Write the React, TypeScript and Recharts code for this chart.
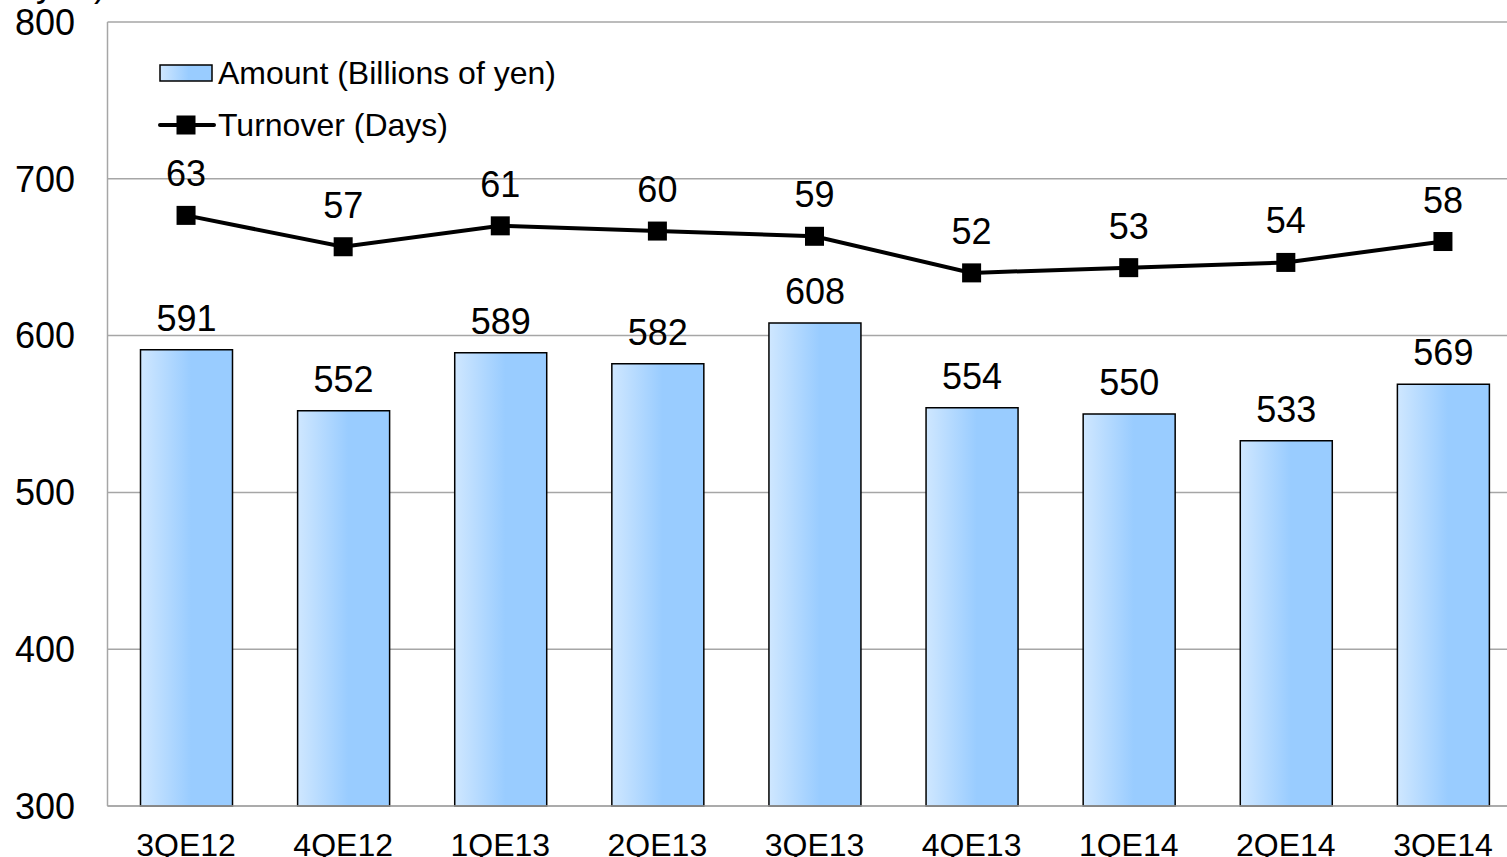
import React from 'react';
import {
  ComposedChart,
  Bar,
  Line,
  XAxis,
  YAxis,
  CartesianGrid,
  LabelList,
  Legend,
  Customized,
} from 'recharts';

const quarters = ['3QE12', '4QE12', '1QE13', '2QE13', '3QE13', '4QE13', '1QE14', '2QE14', '3QE14'];
const amount = [591, 552, 589, 582, 608, 554, 550, 533, 569];
const turnover = [63, 57, 61, 60, 59, 52, 53, 54, 58];
const amountTicks = [300, 400, 500, 600, 700, 800];

const data = quarters.map((q, i) => ({ quarter: q, amount: amount[i], turnover: turnover[i] }));

const FONT = '"Liberation Sans", Arial, Helvetica, sans-serif';
const SHIFT = 30; // svg is pulled up so the unit caption sits above the page edge

const SquareDot = (props: any) => {
  const { cx, cy } = props;
  if (cx == null || cy == null) return null;
  return <rect x={cx - 9.5} y={cy - 9.5} width={19} height={19} fill="#000" />;
};

const renderLegend = () => (
  <div style={{ fontFamily: FONT, fontSize: 32, color: '#000', lineHeight: '52px' }}>
    <div style={{ display: 'flex', alignItems: 'center', height: 52 }}>
      <svg width={60} height={20} style={{ display: 'block' }}>
        <defs>
          <linearGradient id="legendFill" x1="0" y1="0" x2="1" y2="0">
            <stop offset="0%" stopColor="#cfe7ff" />
            <stop offset="55%" stopColor="#99ccff" />
            <stop offset="100%" stopColor="#99ccff" />
          </linearGradient>
        </defs>
        <rect x={2} y={2} width={52} height={16} fill="url(#legendFill)" stroke="#000" strokeWidth={1.5} />
      </svg>
      <span>Amount (Billions of yen)</span>
    </div>
    <div style={{ display: 'flex', alignItems: 'center', height: 52 }}>
      <svg width={60} height={20} style={{ display: 'block' }}>
        <line x1={2} y1={10} x2={56} y2={10} stroke="#000" strokeWidth={4} strokeLinecap="round" />
        <rect x={18.5} y={0.5} width={19} height={19} fill="#000" />
      </svg>
      <span>Turnover (Days)</span>
    </div>
  </div>
);

const UnitCaption = () => (
  <text x={106} y={SHIFT - 4} textAnchor="end" fontFamily={FONT} fontSize={36} fill="#000">
    (Billions of yen)
  </text>
);

export default function App() {
  return (
    <div
      style={{
        position: 'absolute',
        left: 0,
        top: 0,
        width: 1507,
        height: 857,
        overflow: 'hidden',
        background: '#fff',
        fontFamily: FONT,
      }}
    >
      <div style={{ marginTop: -SHIFT }}>
        <ComposedChart
          width={1530}
          height={857 + SHIFT}
          data={data}
          margin={{ top: 22 + SHIFT, right: 8.5, bottom: 0, left: 0 }}
        >
          <defs>
            <linearGradient id="barFill" x1="0" y1="0" x2="1" y2="0">
              <stop offset="0%" stopColor="#cfe7ff" />
              <stop offset="55%" stopColor="#99ccff" />
              <stop offset="100%" stopColor="#99ccff" />
            </linearGradient>
          </defs>
          <CartesianGrid vertical={false} stroke="#a6a6a6" strokeWidth={1.5} yAxisId="amount" />
          <XAxis
            dataKey="quarter"
            height={51}
            tickLine={false}
            tickMargin={21}
            axisLine={{ stroke: '#a6a6a6', strokeWidth: 1.5 }}
            tick={{ fill: '#000', fontSize: 32, fontFamily: FONT }}
            interval={0}
          />
          <YAxis
            yAxisId="amount"
            width={107.5}
            domain={[300, 800]}
            ticks={amountTicks}
            tickLine={false}
            tickMargin={26.5}
            axisLine={{ stroke: '#a6a6a6', strokeWidth: 1.5 }}
            tick={{ fill: '#000', fontSize: 36, fontFamily: FONT }}
          />
          <YAxis yAxisId="days" orientation="right" domain={[-50, 100]} hide />
          <Bar
            yAxisId="amount"
            dataKey="amount"
            barSize={92}
            fill="url(#barFill)"
            stroke="#000"
            strokeWidth={1.5}
            isAnimationActive={false}
          >
            <LabelList
              dataKey="amount"
              position="top"
              offset={19}
              fill="#000"
              fontSize={36}
              fontFamily={FONT}
            />
          </Bar>
          <Line
            yAxisId="days"
            dataKey="turnover"
            stroke="#000"
            strokeWidth={4}
            dot={<SquareDot />}
            activeDot={false}
            isAnimationActive={false}
          >
            <LabelList
              dataKey="turnover"
              position="top"
              offset={29}
              fill="#000"
              fontSize={36}
              fontFamily={FONT}
            />
          </Line>
          <Legend
            content={renderLegend}
            layout="vertical"
            align="center"
            verticalAlign="middle"
            wrapperStyle={{ position: 'absolute', top: 47 + SHIFT, left: 158, width: 'auto', height: 'auto' }}
          />
          <Customized component={UnitCaption} />
        </ComposedChart>
      </div>
    </div>
  );
}
